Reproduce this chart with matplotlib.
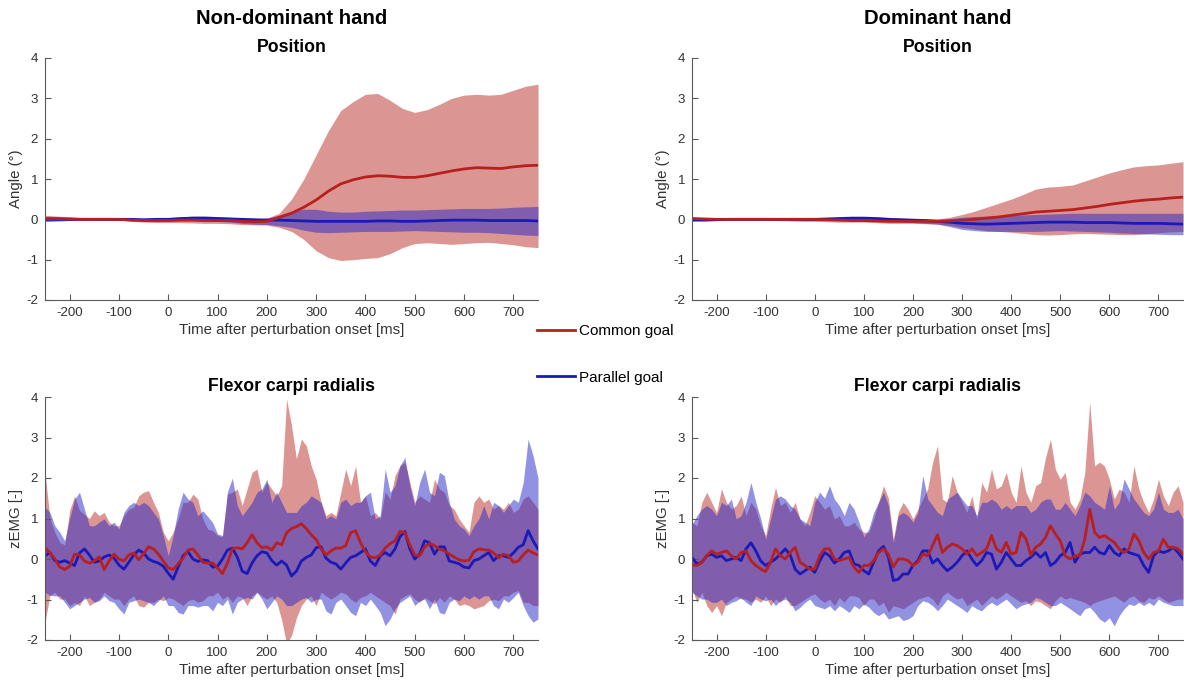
import numpy as np
import matplotlib
matplotlib.use("Agg")
import matplotlib.pyplot as plt
from matplotlib.lines import Line2D

plt.rcParams['font.family'] = ['Liberation Sans', 'DejaVu Sans']
plt.rcParams['axes.unicode_minus'] = False

# ---------------- data ----------------
t_pos = np.arange(-250, 751, 25)   # ms, position traces
t_emg = np.arange(-250, 751, 10)   # ms, EMG traces

# Non-dominant hand, position (deg)
nd_pos_common = [0.02,0.02,0.01,0.0,0.0,0.0,0.0,-0.02,-0.03,-0.03,-0.03,-0.02,-0.02,-0.03,-0.03,-0.03,-0.05,-0.06,-0.05,0.05,
                 0.15,0.3,0.48,0.7,0.88,0.98,1.05,1.08,1.07,1.04,1.04,1.08,1.14,1.2,1.25,1.28,1.27,1.26,1.3,1.33,1.34]
nd_pos_common_hi = [0.1,0.08,0.06,0.04,0.03,0.02,0.02,0.0,0.0,0.0,0.01,0.02,0.02,0.02,0.02,0.01,0.0,0.0,0.03,0.15,
                    0.5,1.0,1.6,2.2,2.7,2.92,3.1,3.12,2.95,2.75,2.65,2.72,2.85,3.0,3.08,3.1,3.08,3.1,3.2,3.3,3.35]
nd_pos_common_lo = [-0.05,-0.04,-0.03,-0.03,-0.03,-0.02,-0.02,-0.05,-0.07,-0.08,-0.08,-0.08,-0.09,-0.1,-0.1,-0.11,-0.13,-0.14,-0.14,-0.2,
                    -0.3,-0.5,-0.78,-0.95,-1.02,-1.0,-0.97,-0.95,-0.85,-0.7,-0.6,-0.58,-0.6,-0.62,-0.6,-0.58,-0.57,-0.6,-0.63,-0.68,-0.7]
nd_pos_parallel = [0.0,0.0,0.0,0.0,0.0,0.0,0.0,0.0,-0.01,0.0,0.0,0.02,0.03,0.03,0.02,0.01,0.0,-0.01,-0.02,-0.02,
                   -0.03,-0.04,-0.05,-0.05,-0.05,-0.05,-0.05,-0.04,-0.04,-0.05,-0.05,-0.04,-0.03,-0.02,-0.02,-0.02,-0.03,-0.03,-0.03,-0.03,-0.04]
nd_pos_parallel_hi = [0.05,0.04,0.03,0.02,0.02,0.02,0.02,0.01,0.01,0.02,0.03,0.06,0.08,0.08,0.07,0.05,0.03,0.02,0.03,0.1,
                      0.2,0.25,0.25,0.2,0.18,0.18,0.2,0.21,0.22,0.23,0.23,0.24,0.25,0.26,0.27,0.27,0.27,0.28,0.3,0.31,0.32]
nd_pos_parallel_lo = [-0.05,-0.04,-0.03,-0.02,-0.02,-0.02,-0.02,-0.03,-0.04,-0.04,-0.04,-0.03,-0.03,-0.04,-0.05,-0.07,-0.1,-0.12,-0.13,-0.16,
                      -0.2,-0.27,-0.32,-0.33,-0.32,-0.31,-0.3,-0.3,-0.3,-0.29,-0.28,-0.29,-0.3,-0.31,-0.32,-0.32,-0.33,-0.35,-0.37,-0.39,-0.4]

# Dominant hand, position (deg)
d_pos_common = [0.02,0.01,0.0,0.0,0.0,0.0,0.0,0.0,0.0,0.0,0.0,-0.01,-0.02,-0.03,-0.03,-0.04,-0.05,-0.05,-0.05,-0.05,
                -0.05,-0.04,-0.02,0.0,0.03,0.06,0.1,0.14,0.18,0.2,0.22,0.24,0.28,0.32,0.37,0.41,0.45,0.48,0.5,0.53,0.55]
d_pos_common_hi = [0.06,0.04,0.03,0.02,0.02,0.02,0.02,0.02,0.02,0.02,0.02,0.01,0.01,0.01,0.01,0.0,0.0,0.0,0.0,0.0,
                   0.01,0.05,0.12,0.2,0.3,0.4,0.5,0.62,0.75,0.8,0.82,0.85,0.95,1.05,1.15,1.23,1.3,1.33,1.35,1.39,1.43]
d_pos_common_lo = [-0.02,-0.02,-0.02,-0.02,-0.02,-0.02,-0.02,-0.03,-0.04,-0.05,-0.05,-0.06,-0.07,-0.07,-0.07,-0.08,-0.1,-0.1,-0.1,-0.11,
                   -0.12,-0.15,-0.2,-0.24,-0.28,-0.3,-0.32,-0.35,-0.38,-0.39,-0.38,-0.36,-0.35,-0.36,-0.37,-0.38,-0.38,-0.36,-0.33,-0.31,-0.3]
d_pos_parallel = [-0.02,-0.02,-0.01,0.0,0.0,0.0,0.0,0.0,0.0,0.0,0.0,0.01,0.02,0.03,0.03,0.02,0.0,-0.01,-0.02,-0.03,
                  -0.05,-0.07,-0.1,-0.11,-0.12,-0.11,-0.1,-0.09,-0.08,-0.07,-0.07,-0.07,-0.08,-0.08,-0.08,-0.09,-0.1,-0.1,-0.1,-0.11,-0.12]
d_pos_parallel_hi = [0.0,0.0,0.01,0.01,0.01,0.01,0.01,0.01,0.01,0.01,0.02,0.04,0.05,0.06,0.07,0.06,0.05,0.03,0.02,0.01,
                     0.0,0.02,0.05,0.07,0.08,0.09,0.1,0.11,0.12,0.13,0.14,0.15,0.15,0.15,0.15,0.15,0.15,0.15,0.15,0.15,0.15]
d_pos_parallel_lo = [-0.03,-0.03,-0.03,-0.02,-0.02,-0.02,-0.02,-0.02,-0.02,-0.03,-0.03,-0.03,-0.02,-0.02,-0.02,-0.03,-0.05,-0.06,-0.08,-0.1,
                     -0.12,-0.18,-0.25,-0.28,-0.3,-0.3,-0.3,-0.3,-0.3,-0.29,-0.28,-0.29,-0.3,-0.31,-0.32,-0.34,-0.35,-0.36,-0.37,-0.38,-0.38]

# Non-dominant hand, EMG flexor carpi radialis (z)
nd_emg_common = [
    0.28,0.15,0.0,-0.2,-0.26,-0.18,0.12,0.1,-0.05,-0.1,
    -0.05,0.05,-0.26,-0.05,0.12,0.0,-0.05,0.1,0.15,-0.02,
    0.13,0.3,0.25,0.12,-0.05,-0.22,-0.26,-0.12,0.02,0.22,
    0.25,0.1,-0.08,-0.1,-0.1,-0.22,-0.36,-0.1,0.25,0.28,
    0.25,0.4,0.6,0.4,0.28,0.3,0.22,0.4,0.35,0.65,
    0.75,0.8,0.87,0.75,0.6,0.48,0.25,0.1,0.2,0.27,
    0.27,0.33,0.65,0.7,0.4,0.18,0.05,0.03,0.1,0.27,
    0.38,0.45,0.68,0.65,0.35,0.1,0.08,0.3,0.38,0.33,
    0.25,0.2,0.12,0.05,-0.02,-0.05,-0.03,0.18,0.25,0.23,
    0.22,0.15,0.03,0.12,0.08,-0.08,-0.05,0.1,0.22,0.15,
    0.1]
nd_emg_parallel = [
    0.08,0.16,-0.04,-0.08,-0.04,-0.1,-0.16,0.15,0.25,0.1,
    -0.08,-0.05,0.05,0.1,0.02,-0.15,-0.25,-0.08,0.1,0.22,
    0.15,0.0,-0.06,-0.1,-0.18,-0.35,-0.5,-0.2,0.08,0.18,
    0.0,-0.06,-0.02,-0.04,-0.2,-0.18,0.0,0.22,0.27,0.05,
    -0.3,-0.36,-0.1,0.08,0.18,0.15,-0.04,-0.15,-0.05,-0.15,
    -0.42,-0.3,-0.05,0.04,0.1,0.28,0.3,0.02,-0.08,-0.12,
    -0.25,-0.1,0.04,0.08,0.16,0.25,-0.05,-0.16,0.08,0.16,
    0.08,0.25,0.55,0.68,0.25,0.0,0.12,0.45,0.4,0.12,
    0.3,0.3,-0.05,-0.08,-0.12,-0.2,-0.22,-0.04,0.0,0.08,
    0.16,-0.04,0.08,0.08,0.04,0.15,0.29,0.35,0.7,0.45,
    0.25]
nd_emg_common_hi = [
    2.14,1.0,0.66,0.41,0.35,1.2,1.56,1.2,1.1,1.0,
    1.19,1.07,1.15,0.91,0.82,0.82,1.07,1.23,1.28,1.56,
    1.65,1.69,1.40,1.15,0.66,0.45,0.66,0.99,1.40,1.40,
    1.60,1.48,0.99,0.74,0.70,0.58,0.55,1.6,1.65,1.73,
    1.32,1.73,2.14,2.22,1.65,1.90,1.73,1.56,1.81,3.95,
    3.3,2.47,2.96,2.8,2.3,1.97,1.40,1.07,1.15,1.07,
    1.65,2.22,1.81,2.3,1.40,1.56,1.07,1.15,0.99,1.65,
    1.48,2.06,2.30,2.39,1.90,1.40,1.56,1.48,1.40,1.97,
    1.73,1.65,1.32,1.23,0.99,0.82,0.66,1.40,1.56,1.40,
    1.48,1.23,1.32,1.23,1.40,1.15,1.23,1.48,1.56,1.40,
    1.23]
nd_emg_parallel_hi = [
    1.28,1.15,0.82,0.66,0.45,1.0,1.48,1.65,1.23,0.82,
    0.82,0.91,0.99,0.82,0.91,0.74,1.15,1.32,1.40,1.32,
    1.40,1.32,1.15,0.99,0.58,0.08,0.58,1.23,1.65,1.48,
    1.40,1.07,1.19,1.05,0.90,0.62,0.58,1.65,2.0,1.32,
    1.07,1.23,1.40,1.65,1.73,1.97,1.40,1.65,1.40,1.15,
    1.15,1.15,1.32,1.40,1.56,1.48,1.40,0.99,1.07,0.99,
    1.40,1.48,1.32,1.40,1.40,1.56,1.65,0.99,1.07,2.22,
    1.65,1.81,2.30,2.51,1.80,1.32,1.89,2.22,1.65,1.56,
    2.14,2.06,1.40,0.99,0.82,0.74,0.58,0.82,0.99,1.32,
    0.99,1.40,1.32,1.15,1.32,1.48,1.40,1.89,2.96,2.55,
    2.0]
nd_emg_common_lo = [
    -1.56,-0.9,-0.82,-0.99,-0.99,-1.15,-1.07,-1.15,-0.91,-1.15,
    -1.07,-0.99,-0.82,-0.91,-0.99,-0.99,-1.15,-0.99,-0.91,-1.15,
    -1.19,-1.07,-1.07,-0.99,-1.03,-0.95,-0.99,-1.07,-1.15,-1.03,
    -0.99,-1.07,-1.03,-0.91,-0.91,-0.82,-0.99,-0.91,-1.07,-0.91,
    -0.95,-1.15,-0.91,-0.82,-0.91,-0.99,-0.91,-1.07,-1.50,-2.1,
    -1.89,-1.45,-1.15,-0.99,-0.91,-1.15,-0.82,-0.91,-0.99,-0.91,
    -0.82,-0.86,-0.99,-1.07,-0.95,-0.91,-0.82,-0.91,-0.99,-1.07,
    -1.15,-1.36,-0.99,-0.91,-0.86,-0.99,-1.07,-0.95,-1.03,-1.11,
    -0.95,-1.07,-0.91,-0.99,-1.15,-1.11,-1.15,-1.23,-1.19,-1.15,
    -1.03,-0.99,-1.03,-0.91,-0.91,-0.82,-0.78,-1.07,-1.07,-1.15,
    -1.15]
nd_emg_parallel_lo = [
    -0.82,-0.9,-0.91,-0.91,-1.07,-1.23,-1.15,-1.07,-0.99,-0.95,
    -1.07,-1.03,-0.91,-1.03,-1.07,-1.23,-1.36,-1.07,-1.03,-0.99,
    -1.03,-1.07,-1.15,-1.03,-0.91,-1.15,-1.15,-1.32,-1.36,-1.15,
    -1.15,-1.19,-1.15,-1.15,-1.28,-1.07,-1.15,-0.99,-1.36,-1.07,
    -0.99,-0.95,-0.99,-0.82,-0.99,-1.23,-1.07,-0.91,-0.99,-1.15,
    -1.15,-1.07,-0.99,-0.95,-1.07,-0.99,-0.99,-1.28,-1.36,-1.07,
    -0.99,-1.15,-1.32,-1.40,-1.07,-1.15,-0.99,-1.15,-1.32,-1.65,
    -1.48,-1.23,-1.07,-0.99,-0.91,-1.15,-1.03,-0.99,-1.23,-0.99,
    -1.32,-1.36,-1.07,-0.99,-1.03,-0.91,-0.99,-0.91,-0.99,-0.91,
    -0.91,-1.15,-1.23,-0.99,-1.07,-0.95,-0.82,-1.15,-1.40,-1.56,
    -1.48]

# Dominant hand, EMG flexor carpi radialis (z)
d_emg_common = [
    -0.14,-0.16,-0.08,0.08,0.2,0.12,0.16,0.2,0.08,0.0,
    0.16,0.2,-0.04,-0.16,-0.25,-0.31,-0.08,0.25,0.08,0.0,
    0.16,0.29,-0.08,-0.16,-0.25,-0.25,0.08,0.25,0.25,0.0,
    -0.04,0.0,0.04,-0.2,-0.33,-0.16,-0.16,-0.04,0.16,0.25,
    0.12,-0.2,0.0,0.0,-0.04,-0.16,-0.08,0.12,0.08,0.33,
    0.6,0.16,0.29,0.37,0.33,0.25,0.12,0.25,0.08,0.16,
    0.25,0.58,0.25,0.16,0.41,0.12,0.16,0.66,0.5,0.1,
    0.29,0.37,0.53,0.82,0.62,0.45,0.08,0.0,0.08,0.08,
    0.49,1.23,0.66,0.53,0.58,0.49,0.41,0.25,0.16,0.25,
    0.62,0.45,0.16,0.0,0.16,0.2,0.49,0.29,0.29,0.25,
    0.12]
d_emg_parallel = [
    0.04,-0.12,-0.08,0.08,0.12,0.04,0.08,-0.04,0.0,0.04,
    -0.04,0.25,0.4,0.2,-0.05,-0.16,-0.08,0.0,0.12,0.25,
    0.1,-0.25,-0.37,-0.29,-0.2,-0.33,-0.05,0.16,0.08,-0.1,
    0.0,0.16,0.2,-0.12,-0.16,-0.29,-0.37,-0.08,0.2,0.31,
    0.05,-0.53,-0.5,-0.37,-0.37,-0.16,-0.04,0.2,0.2,-0.1,
    0.0,-0.16,-0.29,-0.2,-0.08,0.08,0.2,0.0,-0.16,-0.04,
    0.16,0.12,-0.25,-0.08,0.16,0.0,-0.16,-0.16,-0.04,0.04,
    0.16,0.04,0.16,-0.16,-0.08,0.08,0.16,0.41,-0.08,0.12,
    0.16,0.16,0.29,0.16,0.12,0.33,0.16,0.08,0.25,0.16,
    0.12,0.08,-0.16,-0.33,0.08,0.2,0.16,0.2,0.29,0.16,
    0.0]
d_emg_common_hi = [
    0.9,0.82,1.4,1.65,1.40,1.15,1.73,1.40,1.23,1.32,
    1.56,1.07,1.40,1.23,0.82,0.58,1.23,1.77,1.32,1.40,
    1.15,1.40,0.99,0.82,1.15,1.56,1.40,1.23,1.32,0.99,
    1.07,0.82,0.82,0.91,0.74,0.66,0.66,0.99,1.40,1.81,
    1.50,0.49,1.15,1.40,1.23,0.99,1.23,1.48,1.73,2.39,
    2.8,1.48,1.40,2.06,1.65,1.40,1.15,1.56,0.99,1.89,
    1.65,2.22,1.73,1.81,2.14,1.65,1.40,2.30,1.65,1.40,
    1.81,1.89,2.5,2.96,2.22,1.97,2.14,1.40,1.23,1.48,
    2.14,3.87,2.30,2.39,2.30,1.97,1.48,1.73,1.65,1.40,
    2.30,1.73,1.40,1.15,1.48,1.97,1.56,1.32,1.65,1.81,
    1.40]
d_emg_parallel_hi = [
    0.86,1.07,1.23,1.32,1.23,1.07,1.40,1.32,1.48,0.99,
    1.07,1.40,1.89,1.40,0.99,0.49,0.99,1.48,1.56,1.48,
    1.32,1.23,0.99,0.91,0.82,1.40,1.65,1.50,1.81,1.48,
    1.32,1.07,1.40,1.23,0.91,0.55,0.74,1.15,1.40,1.65,
    1.32,0.40,1.07,1.15,1.07,0.91,1.15,2.06,1.48,1.32,
    1.15,1.07,1.48,1.56,1.65,1.48,1.32,1.32,1.07,1.40,
    1.40,1.48,1.40,1.23,1.32,1.23,1.32,1.32,1.32,1.15,
    1.23,1.40,1.48,1.48,1.23,1.23,1.40,1.23,1.07,1.32,
    1.65,1.56,1.40,1.32,1.23,1.81,1.23,1.40,1.98,1.73,
    1.48,1.32,1.15,1.07,1.23,1.65,1.23,1.15,1.15,1.23,
    0.99]
d_emg_common_lo = [
    -0.74,-1.07,-0.82,-1.15,-1.32,-1.15,-1.40,-1.07,-0.99,-0.91,
    -0.99,-0.99,-1.07,-0.99,-1.07,-0.91,-1.15,-0.99,-1.07,-0.91,
    -1.15,-1.15,-1.07,-0.99,-0.91,-0.86,-0.99,-1.07,-0.99,-1.15,
    -0.95,-1.07,-0.91,-0.91,-0.95,-1.15,-0.99,-0.99,-1.15,-1.07,
    -1.32,-1.15,-1.19,-1.23,-1.15,-1.07,-0.99,-0.95,-0.91,-0.99,
    -1.15,-0.91,-0.82,-0.91,-0.99,-0.95,-1.15,-1.07,-0.99,-1.15,
    -1.03,-0.91,-0.99,-0.91,-0.82,-0.91,-0.99,-1.07,-1.03,-1.15,
    -1.03,-1.07,-1.15,-1.23,-1.03,-0.91,-0.99,-0.95,-0.99,-1.03,
    -1.07,-1.15,-1.07,-1.03,-0.99,-0.95,-0.91,-0.99,-1.07,-0.95,
    -0.91,-1.03,-1.07,-0.95,-0.99,-0.91,-0.99,-1.07,-1.03,-0.99,
    -0.99]
d_emg_parallel_lo = [
    -0.82,-0.91,-0.99,-0.99,-1.07,-1.07,-0.99,-1.15,-1.07,-1.03,
    -0.95,-1.07,-1.15,-0.91,-0.99,-1.03,-0.99,-1.15,-1.03,-0.99,
    -1.07,-1.28,-1.19,-1.07,-0.99,-1.15,-1.19,-1.23,-1.15,-1.28,
    -1.15,-1.23,-1.32,-1.15,-1.23,-1.11,-1.19,-1.32,-1.40,-1.32,
    -1.48,-1.44,-1.40,-1.52,-1.48,-1.40,-1.15,-1.03,-1.07,-1.15,
    -1.28,-1.15,-0.99,-1.07,-1.15,-1.23,-1.32,-1.15,-1.23,-1.28,
    -1.15,-1.07,-1.15,-1.07,-0.99,-1.11,-1.23,-1.15,-1.11,-1.07,
    -0.95,-0.99,-1.07,-1.15,-1.15,-1.07,-1.15,-1.23,-1.32,-1.40,
    -1.23,-1.19,-1.32,-1.48,-1.56,-1.45,-1.65,-1.40,-1.23,-1.11,
    -1.15,-1.07,-1.15,-1.07,-1.15,-0.99,-1.07,-1.11,-1.15,-1.15,
    -1.15]

xticks = [-200, -100, 0, 100, 200, 300, 400, 500, 600, 700]
yticks = [-2, -1, 0, 1, 2, 3, 4]
labels = ["Common goal", "Parallel goal"]

# ---------------- style ----------------
RED_LINE = (0.72, 0.12, 0.12)
BLUE_LINE = (0.10, 0.10, 0.72)
RED_FILL = (0.72, 0.18, 0.16)
BLUE_FILL = (0.15, 0.15, 0.78)
AX_COL = '#5a5a5a'
TXT_COL = '#333333'

W, H = 1184, 686
fig = plt.figure(figsize=(W / 100, H / 100), dpi=100)

def px_axes(l, r, top, bot):
    return fig.add_axes([l / W, 1 - bot / H, (r - l) / W, (bot - top) / H])

axes = {
    'tl': px_axes(45, 538, 58, 300),
    'tr': px_axes(692, 1183, 58, 300),
    'bl': px_axes(45, 538, 397, 640),
    'br': px_axes(692, 1183, 397, 640),
}

def draw(ax, t, c, c_hi, c_lo, p, p_hi, p_lo, title, ylabel):
    ax.fill_between(t, c_lo, c_hi, color=RED_FILL, alpha=0.5, linewidth=0)
    ax.fill_between(t, p_lo, p_hi, color=BLUE_FILL, alpha=0.5, linewidth=0)
    ax.plot(t, p, color=BLUE_LINE, lw=2.0)
    ax.plot(t, c, color=RED_LINE, lw=2.0)
    ax.set_xlim(-250, 750)
    ax.set_ylim(-2, 4)
    ax.set_xticks(xticks)
    ax.set_yticks(yticks)
    for s in ('top', 'right'):
        ax.spines[s].set_visible(False)
    for s in ('left', 'bottom'):
        ax.spines[s].set_color(AX_COL)
        ax.spines[s].set_linewidth(0.8)
    ax.tick_params(direction='in', length=4, width=0.8, color=AX_COL,
                   labelcolor=TXT_COL, labelsize=9.6, pad=5)
    ax.set_xlabel("Time after perturbation onset [ms]", fontsize=10.8,
                  color=TXT_COL, labelpad=3)
    ax.set_ylabel(ylabel, fontsize=10.8, color=TXT_COL, labelpad=2)
    ax.set_title(title, fontsize=12.7, fontweight='bold', pad=4.5)

draw(axes['tl'], t_pos, nd_pos_common, nd_pos_common_hi, nd_pos_common_lo,
     nd_pos_parallel, nd_pos_parallel_hi, nd_pos_parallel_lo, "Position", "Angle (°)")
draw(axes['tr'], t_pos, d_pos_common, d_pos_common_hi, d_pos_common_lo,
     d_pos_parallel, d_pos_parallel_hi, d_pos_parallel_lo, "Position", "Angle (°)")
draw(axes['bl'], t_emg, nd_emg_common, nd_emg_common_hi, nd_emg_common_lo,
     nd_emg_parallel, nd_emg_parallel_hi, nd_emg_parallel_lo, "Flexor carpi radialis", "zEMG [-]")
draw(axes['br'], t_emg, d_emg_common, d_emg_common_hi, d_emg_common_lo,
     d_emg_parallel, d_emg_parallel_hi, d_emg_parallel_lo, "Flexor carpi radialis", "zEMG [-]")

fig.text((45 + 538) / 2 / W, 1 - 18 / H, "Non-dominant hand", ha='center', va='center',
         fontsize=14.6, fontweight='bold')
fig.text((692 + 1183) / 2 / W, 1 - 18 / H, "Dominant hand", ha='center', va='center',
         fontsize=14.6, fontweight='bold')

handles = [Line2D([], [], color=RED_LINE, lw=2.0), Line2D([], [], color=BLUE_LINE, lw=2.0)]
fig.legend(handles, labels, loc='upper left', bbox_to_anchor=(537 / W, 1 - 324 / H),
           frameon=False, fontsize=11, handlelength=2.5, handletextpad=0.25,
           labelspacing=2.15, borderpad=0, borderaxespad=0)

fig.savefig("out.png", dpi=100)
